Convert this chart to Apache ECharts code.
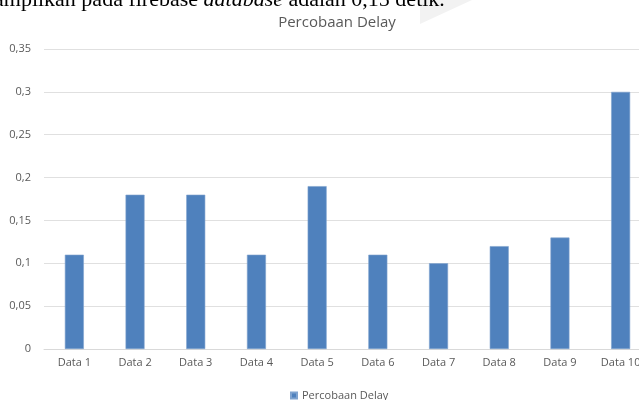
<!DOCTYPE html>
<html>
<head>
<meta charset="utf-8">
<script src="https://cdn.jsdelivr.net/npm/echarts@6/dist/echarts.min.js"></script>
<style>html,body{margin:0;padding:0;background:#fff;}#c{width:639px;height:400px;}</style>
</head>
<body>
<div id="c"></div>
<script>
const categories = ['Data 1','Data 2','Data 3','Data 4','Data 5','Data 6','Data 7','Data 8','Data 9','Data 10'];
const delayValues = [0.11, 0.18, 0.18, 0.11, 0.19, 0.11, 0.10, 0.12, 0.13, 0.30];
const seriesName = 'Percobaan Delay';
const titleText = 'Percobaan Delay';
const headerText = 'ampilkan pada firebase ';
const headerItalic = 'database';
const headerTail = ' adalah 0,15 detik.';

const fmt = v => String(v).replace('.', ',');
const chart = echarts.init(document.getElementById('c'), null, {renderer: 'canvas'});
chart.setOption({
  backgroundColor: '#fff',
  animation: false,
  title: {
    text: titleText, left: 332, top: 10, textAlign: 'center',
    textStyle: {fontFamily: 'Open Sans', fontSize: 15, fontWeight: 'normal', color: '#595959'}
  },
  graphic: [
    {type: 'polygon', shape: {points: [[420,0],[472,0],[420,24]]}, style: {fill: '#f2f2f2'}, z: 0},
    {
      type: 'text', left: -6, top: -11, z: 10,
      style: {
        rich: {
          n: {fontFamily: 'Liberation Serif', fontSize: 22, fill: '#000'},
          i: {fontFamily: 'Liberation Serif', fontSize: 22, fontStyle: 'italic', fill: '#000'}
        },
        text: '{n|' + headerText + '}{i|' + headerItalic + '}{n|' + headerTail + '}'
      }
    }
  ],
  legend: {
    top: 385, left: 285, itemWidth: 6, itemHeight: 6, itemGap: 4,
    icon: 'rect',
    textStyle: {fontFamily: 'Open Sans', fontSize: 11, color: '#595959'},
    data: [seriesName]
  },
  grid: {left: 44, width: 607, top: 49, bottom: 51, containLabel: false, outerBoundsMode: 'none'},
  xAxis: {
    type: 'category', data: categories,
    axisLine: {lineStyle: {color: '#d9d9d9'}},
    axisTick: {show: false},
    axisLabel: {fontFamily: 'Open Sans', fontSize: 11, color: '#595959', margin: 8, interval: 0}
  },
  yAxis: {
    type: 'value', min: 0, max: 0.35, interval: 0.05,
    axisLine: {show: false}, axisTick: {show: false},
    splitLine: {lineStyle: {color: '#e0e0e0'}},
    axisLabel: {fontFamily: 'Open Sans', fontSize: 11, color: '#595959', margin: 13, formatter: v => fmt(+v.toFixed(2))}
  },
  series: [{
    name: seriesName, type: 'bar', data: delayValues, barWidth: 19,
    itemStyle: {color: '#4f81bd', borderColor: '#7fa3cf', borderWidth: 0.6}
  }]
});
</script>
</body>
</html>
